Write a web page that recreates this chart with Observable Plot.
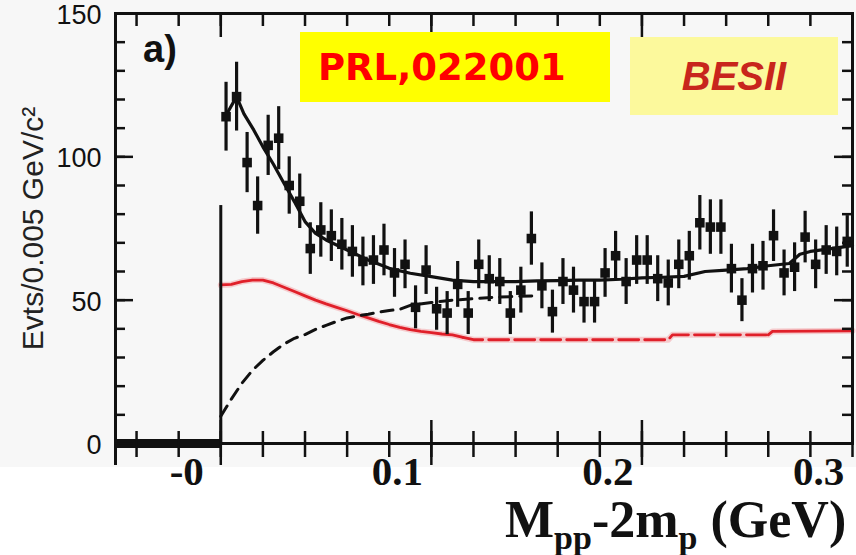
<!DOCTYPE html>
<html><head><meta charset="utf-8">
<script src="https://cdn.jsdelivr.net/npm/d3@7"></script>
<script src="https://cdn.jsdelivr.net/npm/@observablehq/plot@0.6"></script>
<style>
body{margin:0;background:#fff;}
#wrap{position:relative;width:856px;height:555px;overflow:hidden;
 background:linear-gradient(to bottom,#f7f7f7 0,#f7f7f7 467px,#fff 467px);}
#wrap svg{position:absolute;left:0;top:0;}
.ann{position:absolute;box-sizing:border-box;}
#prl{left:300px;top:32px;width:310px;height:70px;background:#ffff00;color:#ff0000;
 font:bold 37px "DejaVu Sans";display:flex;align-items:center;padding-left:18px;}
#bes{left:630px;top:37px;width:208px;height:78px;background:#fcf99c;color:#c8261c;
 font:italic bold 40px "Liberation Sans";display:flex;align-items:center;justify-content:center;}
#pa{left:143px;top:30px;font:bold 38px "Liberation Sans";line-height:1;color:#111;}
#xt{left:505px;top:500px;font:bold 52px "Liberation Serif";line-height:40px;color:#111;white-space:nowrap;}
#xt sub{font-size:34px;vertical-align:-12px;line-height:0;}
</style></head>
<body>
<div id="wrap">
 <div class="ann" id="pa">a)</div>
 <div class="ann" id="prl">PRL,022001</div>
 <div class="ann" id="bes">BESII</div>
 <div class="ann" id="xt">M<sub>pp</sub>-2m<sub>p</sub> (GeV)</div>
</div>
<script>
// ---- data ----
const xDomain = [-0.05, 0.3];
const yDomain = [0, 150];
const binCenters = [0.0025,0.0075,0.0125,0.0175,0.0225,0.0275,0.0325,0.0375,0.0425,0.0475,
 0.0525,0.0575,0.0625,0.0675,0.0725,0.0775,0.0825,0.0875,0.0925,0.0975,
 0.1025,0.1075,0.1125,0.1175,0.1225,0.1275,0.1325,0.1375,0.1425,0.1475,
 0.1525,0.1575,0.1625,0.1675,0.1725,0.1775,0.1825,0.1875,0.1925,0.1975,
 0.2025,0.2075,0.2125,0.2175,0.2225,0.2275,0.2325,0.2375,0.2425,0.2475,
 0.2525,0.2575,0.2625,0.2675,0.2725,0.2775,0.2825,0.2875,0.2925,0.2975];
const counts = [114,121,98,83,104,106.5,90,84.5,68,74.5,
 72.5,69.5,67,63.5,64,67.5,59.5,62.5,47.5,60.5,
 47,45.5,55.5,45.5,62.5,57.5,56.5,45.5,53.5,71.5,
 55,46,56.5,53.5,49.5,49.5,59.5,65.5,56.5,64,
 64,57.5,56,62.5,65.5,77,75.5,75.5,61,50,
 61,62,72.5,59.5,61.5,72,62.5,67.5,67,70.5];
const errors = [12,12,10.5,10,10.5,11,10,9.5,9,9.5,
 9,9,9,8.5,8.5,9,8.5,8.5,7.5,8.5,
 7.5,7.5,8,7.5,8.5,8,8,7.5,8,9.3,
 8,7.5,8,8,7.5,7.5,8.5,8.5,8,8.5,
 8.5,8,8,8.5,8.5,9.5,9.5,9.5,8.5,7.5,
 8.5,8.5,9,8,8.5,9,8.5,8.5,8.5,9];

const fitX = [0.0025,0.0075,0.011,0.0157,0.02,0.025,0.03,0.035,0.04,0.045,0.05,0.06,0.07,0.08,0.09,0.10,
 0.11,0.12,0.13,0.14,0.15,0.16,0.17,0.18,0.19,0.20,0.21,0.22,0.23,0.24,0.25,0.26,0.27,0.275,0.28,0.29,0.30];
const fitY = [114.5,121,115,109.3,103.5,97.4,90.8,84.3,77.4,73.3,71,67.5,64,61.1,59.4,58.2,
 57,56.5,56.5,56.5,56.7,56.8,57,57,57.3,57.8,58,58.3,60,60.5,61,62,62.8,66,67,68,69];

const redX = [0,0.005,0.01,0.015,0.02,0.025,0.03,0.035,0.04,0.045,0.05,0.055,0.06,0.065,0.07,0.075,0.08,
 0.085,0.09,0.095,0.1,0.105,0.11,0.115,0.12,0.2125,0.2145,0.26,0.262,0.3];
const redY = [55.3,55.5,56.5,57,57,56,54.5,53,51.5,50,48.7,47.5,46.3,45,43.8,42.6,41.5,
 40.5,39.7,39.1,38.7,38.2,37.9,37,36.2,36.2,37.9,37.9,39.1,39.3];

const dashX = [0,0.005,0.01,0.015,0.02,0.025,0.03,0.035,0.04,0.045,0.05,0.055,0.06,0.065,0.07,0.075,0.08,
 0.085,0.09,0.1,0.11,0.12,0.13,0.14,0.15];
const dashY = [9.5,15.5,21,25.5,29,32,34.7,36.7,38,39.8,41.2,42.6,43.8,44.5,45.1,45.8,46.4,
 46.8,48.2,49.2,50,50.5,51,51.3,51.5];

const thresholdTop = 83;
const yTickVals = [0,50,100,150];
const xTickVals = [0,0.1,0.2,0.3];
const xTickLabels = ["-0","0.1","0.2","0.3"];
const yLabel = "Evts/0.005 GeV/c\u00B2";

// ---- build ----
const pts = binCenters.map((x,i)=>({x, v:counts[i], e:errors[i]}));
const fit = fitX.map((x,i)=>({x, y:fitY[i]}));
const red = redX.map((x,i)=>({x, y:redY[i]}));
const redSolidA = red.filter(d=>d.x<=0.115);
const redDash = red.filter(d=>d.x>=0.115 && d.x<=0.26);
const redSolidB = red.filter(d=>d.x>=0.26);
const dash = dashX.map((x,i)=>({x, y:dashY[i]}));
const xLabMap = new Map(xTickVals.map((v,i)=>[v,xTickLabels[i]]));

const xMinor = d3.range(-0.04, 0.3001, 0.02);
const xMajor = [0,0.1,0.2];
const yMinor = d3.range(0, 151, 10);
const yMajor = yTickVals;
const ink = "#111";

const chart = Plot.plot({
  width: 856, height: 555,
  marginLeft: 115, marginRight: 4, marginTop: 13, marginBottom: 112,
  x: {domain: xDomain, label: null},
  y: {domain: yDomain, label: null},
  style: {background: "transparent", fontFamily: "Liberation Sans", color: ink},
  marks: [
    // red background curve (halo + line)
    Plot.line(red, {x:"x", y:"y", stroke:"#f4a0a4", strokeWidth:6, strokeOpacity:0.5}),
    Plot.line(redSolidA, {x:"x", y:"y", stroke:"#e0202a", strokeWidth:2.8}),
    Plot.line(redDash, {x:"x", y:"y", stroke:"#e0202a", strokeWidth:2.8, strokeDasharray:"20,6"}),
    Plot.line(redSolidB, {x:"x", y:"y", stroke:"#e0202a", strokeWidth:2.8}),
    // dashed black component
    Plot.line(dash, {x:"x", y:"y", stroke:ink, strokeWidth:3, strokeDasharray:"12,8"}),
    // total fit
    Plot.line(fit, {x:"x", y:"y", stroke:ink, strokeWidth:3.2}),
    // threshold line and empty region
    Plot.ruleX([0], {y1: 0, y2: thresholdTop, stroke: ink, strokeWidth: 3}),
    Plot.ruleY([0], {x1: xDomain[0], x2: 0, stroke: ink, strokeWidth: 9}),
    // data with error bars
    Plot.ruleX(pts, {x:"x", y1:d=>d.v-d.e, y2:d=>d.v+d.e, stroke:ink, strokeWidth:3.2}),
    Plot.dot(pts, {x:"x", y:"v", symbol:"square", r:5.4, fill:ink, stroke:"none"}),
    // frame
    Plot.frame({stroke: ink, strokeWidth: 3}),
    // bottom ticks (crossing the axis)
    Plot.tickX(xMinor, {x:d=>d, insetTop:418, insetBottom:-14, stroke:ink, strokeWidth:2.5}),
    Plot.tickX(xMajor, {x:d=>d, insetTop:407, insetBottom:-22, stroke:ink, strokeWidth:2.5}),
    Plot.tickX([xDomain[0]], {x:d=>d, insetTop:407, insetBottom:-22, stroke:ink, strokeWidth:3}),
    // top ticks
    Plot.tickX(xMinor, {x:d=>d, insetBottom:417, stroke:ink, strokeWidth:2.5}),
    Plot.tickX(xMajor, {x:d=>d, insetBottom:406, stroke:ink, strokeWidth:2.5}),
    // left / right ticks (inward)
    Plot.tickY(yMinor, {y:d=>d, insetRight:727, stroke:ink, strokeWidth:2.5}),
    Plot.tickY(yMajor, {y:d=>d, insetRight:719, stroke:ink, strokeWidth:2.5}),
    Plot.tickY(yMinor, {y:d=>d, insetLeft:727, stroke:ink, strokeWidth:2.5}),
    Plot.tickY(yMajor, {y:d=>d, insetLeft:719, stroke:ink, strokeWidth:2.5}),
    // tick labels
    Plot.axisY(yTickVals, {anchor:"left", tickSize:0, tickPadding:14, dy:2, fontSize:27, label:null, fill:ink}),
    Plot.axisX(xTickVals, {anchor:"bottom", tickSize:0, tickPadding:12, dx:-34, fontSize:41,
      fontWeight:"bold", fontFamily:"Liberation Serif", label:null, fill:ink,
      tickFormat: d => xLabMap.get(d)}),
    // y axis title
    Plot.text([yLabel], {text:d=>d, frameAnchor:"left", dx:-82, rotate:-90, fontSize:30,
      fill:"#222", textAnchor:"middle"})
  ]
});
document.getElementById("wrap").prepend(chart);
</script>
</body></html>
